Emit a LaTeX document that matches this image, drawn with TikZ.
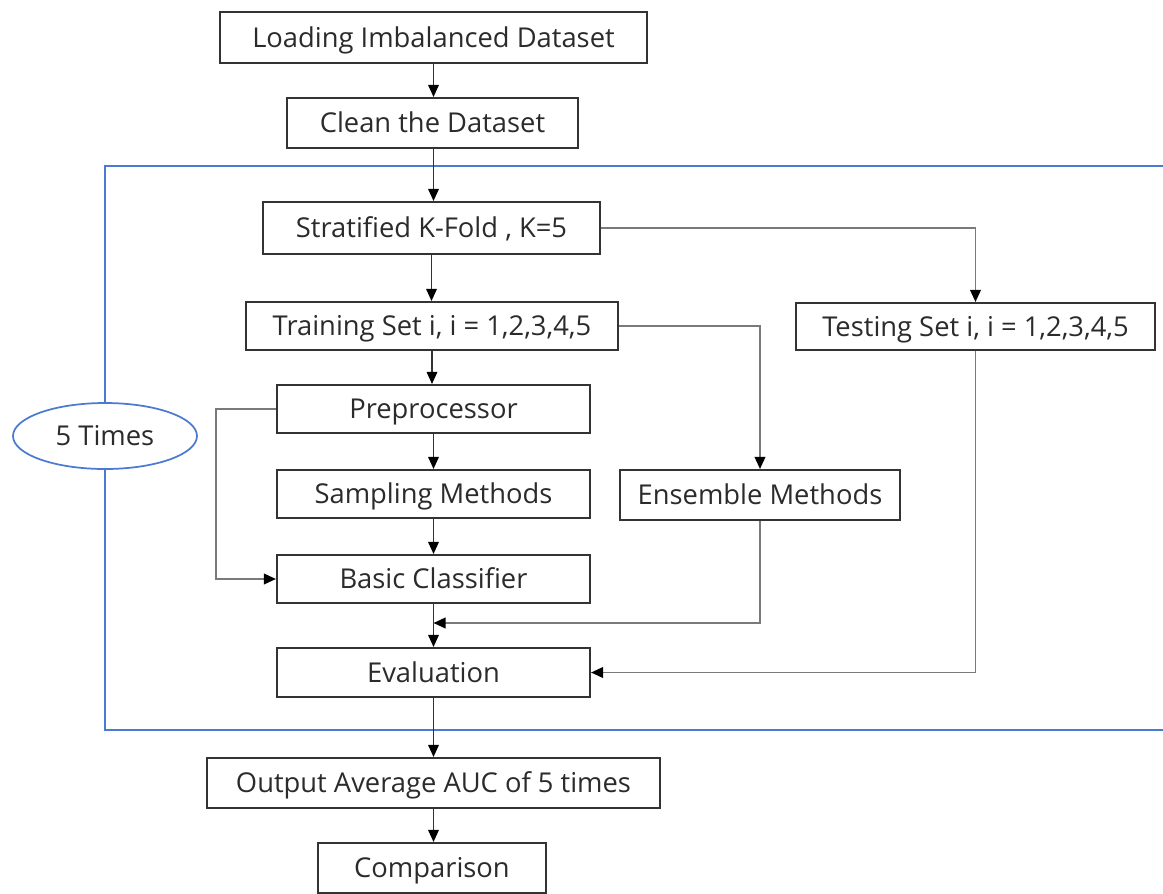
\documentclass[tikz,border=0pt]{standalone}
\usepackage{fontspec}
\setmainfont{Open Sans}
\usetikzlibrary{arrows.meta,shapes.geometric}
\definecolor{boxline}{HTML}{333333}
\definecolor{txt}{HTML}{2B2B2B}
\definecolor{conn}{HTML}{7A7A7A}
\definecolor{loopblue}{HTML}{4A7BD0}
\tikzset{
  stepbox/.style={draw=boxline, line width=1.6pt, rectangle, inner sep=0pt, align=center,
    text=txt, font=\fontsize{20.5}{24}\selectfont, text height=14.6pt, text depth=0pt},
  mainarrow/.style={draw=boxline, line width=0.9pt, -{Triangle[length=9pt,width=8pt,black]}},
  sidearrow/.style={draw=conn, line width=1.2pt, -{Triangle[length=9pt,width=8pt,black]}},
}
\begin{document}
\begin{tikzpicture}[x=0.75pt,y=-0.75pt]
\useasboundingbox (0,0) rectangle (1163,893);
% loop frame
\draw[loopblue, line width=1.3pt] (1175,166) -- (105,166) -- (105,730) -- (1175,730);
\node[draw=loopblue, line width=1.3pt, fill=white, ellipse, minimum width=184*0.75pt, minimum height=66*0.75pt,
  inner sep=0pt, text=txt, font=\fontsize{20.5}{24}\selectfont, text height=14.6pt, text depth=0pt] (times) at (105,436) {5 Times};
% boxes
\node[stepbox, minimum width=427*0.75pt, minimum height=51*0.75pt] (load) at (433.5,37.5) {Loading Imbalanced Dataset};
\node[stepbox, minimum width=291*0.75pt, minimum height=50*0.75pt] (clean) at (432.5,123) {Clean the Dataset};
\node[stepbox, minimum width=337*0.75pt, minimum height=52*0.75pt] (strat) at (431.5,228) {Stratified K-Fold , K=5};
\node[stepbox, minimum width=372*0.75pt, minimum height=48*0.75pt] (train) at (432,326) {Training Set i, i = 1,2,3,4,5};
\node[stepbox, minimum width=359*0.75pt, minimum height=47*0.75pt] (test) at (975.5,326.5) {Testing Set i, i = 1,2,3,4,5};
\node[stepbox, minimum width=313*0.75pt, minimum height=48*0.75pt] (pre) at (433.5,409) {Preprocessor};
\node[stepbox, minimum width=313*0.75pt, minimum height=48*0.75pt] (samp) at (433.5,494) {Sampling Methods};
\node[stepbox, minimum width=280*0.75pt, minimum height=50*0.75pt] (ens) at (760,495) {Ensemble Methods};
\node[stepbox, minimum width=313*0.75pt, minimum height=48*0.75pt] (basic) at (433.5,579) {Basic Classifier};
\node[stepbox, minimum width=313*0.75pt, minimum height=49*0.75pt] (eval) at (433.5,672.5) {Evaluation};
\node[stepbox, minimum width=453*0.75pt, minimum height=50*0.75pt] (out) at (433.5,783) {Output Average AUC of 5 times};
\node[stepbox, minimum width=228*0.75pt, minimum height=50*0.75pt] (comp) at (432,868) {Comparison};
% coordinates
\coordinate (mergeE) at (433.5,623);
% main flow
\draw[mainarrow] (load.south) -- (load.south |- clean.north);
\draw[mainarrow] (load.south |- clean.south) -- (load.south |- strat.north);
\draw[mainarrow] (strat.south) -- (strat.south |- train.north);
\draw[mainarrow] (train.south) -- (train.south |- pre.north);
\draw[mainarrow] (pre.south) -- (samp.north);
\draw[mainarrow] (samp.south) -- (basic.north);
\draw[mainarrow] (basic.south) -- (eval.north);
\draw[mainarrow] (eval.south) -- (out.north);
\draw[mainarrow] (out.south) -- (out.south |- comp.north);
% side flows
\draw[sidearrow] (strat.east) -| (test.north);
\draw[sidearrow] (train.east) -| (ens.north);
\draw[sidearrow] (pre.west) -- ++(-60,0) |- (basic.west);
\draw[sidearrow] (ens.south) |- (mergeE);
\draw[sidearrow] (test.south) |- (eval.east);
\end{tikzpicture}
\end{document}
